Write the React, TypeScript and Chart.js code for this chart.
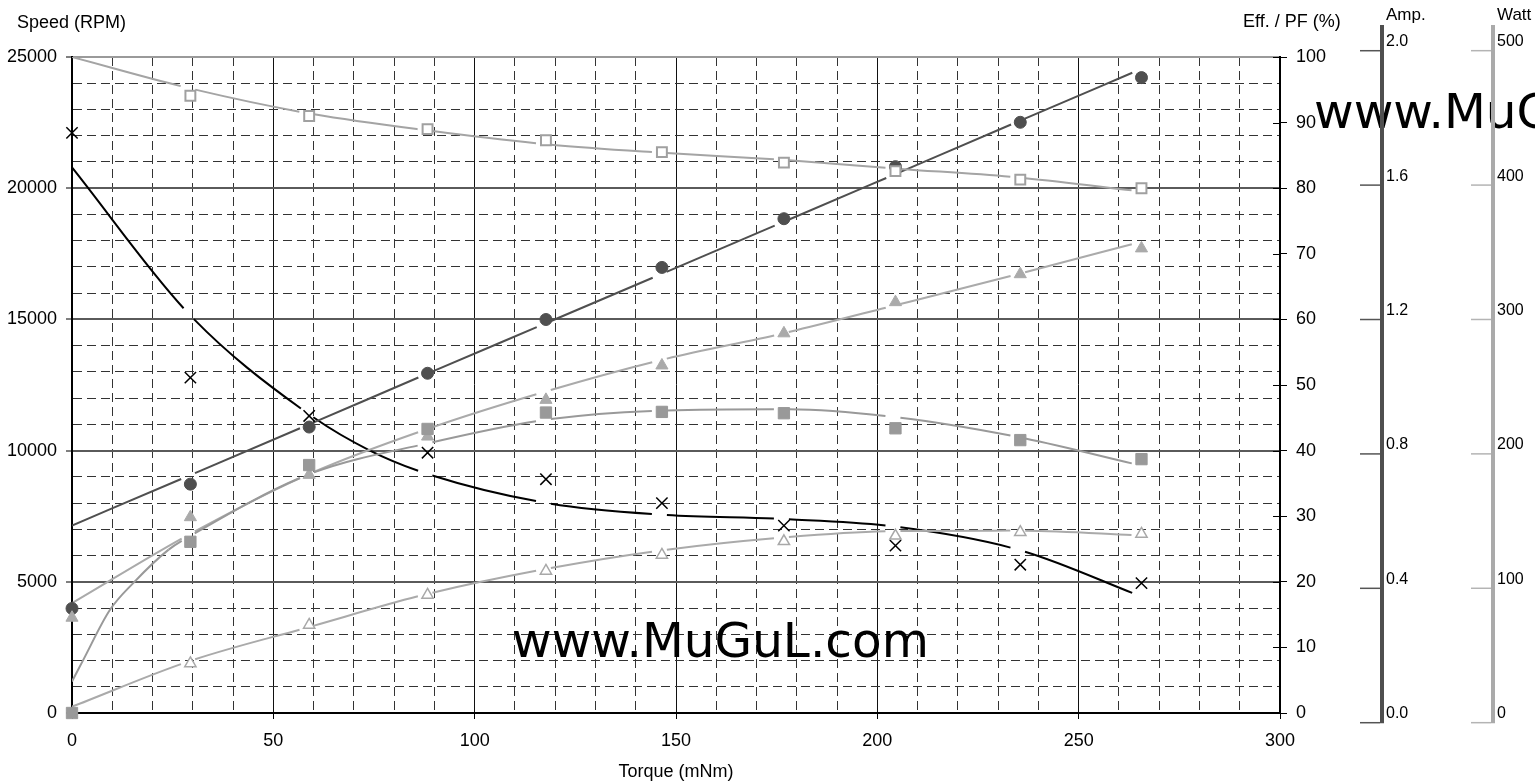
import { useEffect, useRef } from 'react';
import { Chart, registerables } from 'chart.js';

Chart.register(...registerables);

// ---------------- data ----------------
const TORQUE = [0, 29.4, 58.9, 88.3, 117.7, 146.5, 176.8, 204.5, 235.5, 265.6];
const SPEED_RPM = [22110, 12780, 11320, 9920, 8910, 8000, 7140, 6380, 5650, 4950];
const CURRENT_A = [0.34, 0.71, 0.88, 1.04, 1.2, 1.355, 1.5, 1.655, 1.787, 1.92];
const INPUT_W = [78.1, 152.9, 184.4, 212.9, 240.2, 265.8, 289.7, 312.9, 333.7, 352.9];
const OUTPUT_W = [null, 44.1, 72.7, 95.0, 112.9, 124.8, 134.9, 139.0, 141.7, 140.4];
const EFF_PCT = [0, 26.1, 37.8, 43.3, 45.8, 45.9, 45.7, 43.4, 41.6, 38.7];
const PF_PCT = [null, 94.1, 91.0, 89.0, 87.3, 85.5, 83.9, 82.6, 81.3, 80.0];

// fitted (trend) curves
const SPEED_FIT_T = [0, 29.4, 58.9, 74, 88.3, 117.7, 146.5, 176.8, 204.5, 235.5, 265.6];
const SPEED_FIT = [20790, 15150, 11380, 10000, 9110, 8010, 7560, 7390, 7100, 6200, 4440];
const CURRENT_FIT = [0.587, 0.737, 0.888, 1.039, 1.189, 1.336, 1.491, 1.633, 1.792, 1.946];
const INPUT_FIT = [88.9, 140.5, 185, 218.6, 246.5, 270, 289.8, 310.6, 334.2, 357.9];
const OUTPUT_FIT = [11.9, 46, 71.2, 95.8, 114.4, 128.2, 137.8, 142.5, 142.9, 139.4];
const EFF_FIT_T = [0, 2.8, 9.4, 15.2, 24, 29.4, 58.9, 88.3, 117.7, 146.5, 176.8, 204.5, 235.5, 265.6];
const EFF_FIT = [4.8, 8.1, 15.7, 19.8, 24.9, 27.0, 36.4, 41.1, 44.7, 46.1, 46.3, 45.1, 42.0, 37.7];
const PF_FIT = [100, 95.2, 91.4, 88.8, 86.7, 85.4, 84.3, 83.0, 81.6, 79.5];

// axes / ticks
const AMP_TICKS = [0, 0.4, 0.8, 1.2, 1.6, 2.0];
const WATT_TICKS = [0, 100, 200, 300, 400, 500];
const PCT_TICKS = [0, 10, 20, 30, 40, 50, 60, 70, 80, 90, 100];
const SPEED_TITLE = 'Speed (RPM)';
const PCT_TITLE = 'Eff. / PF (%)';
const X_TITLE = 'Torque (mNm)';
const AMP_TITLE = 'Amp.';
const WATT_TITLE = 'Watt';
const WATERMARK = 'www.MuGuL.com';

// ---------------- helpers ----------------
const FONT = '"Liberation Sans", Arial, Helvetica, sans-serif';
const pts = (xs: number[], ys: (number | null)[]) => xs.map((x, i) => ({ x, y: ys[i] }));
const MARKS = TORQUE.filter((t) => t > 0);
const GAP_BEFORE = 10;
const GAP_AFTER = 5;

function gapStyle(ctx: any, xs: number[]) {
  const p0 = ctx.p0;
  const p1 = ctx.p1;
  const L = Math.hypot(p1.x - p0.x, p1.y - p0.y);
  const a = MARKS.includes(xs[ctx.p0DataIndex]) ? GAP_AFTER : 0;
  const b = MARKS.includes(xs[ctx.p1DataIndex]) ? GAP_BEFORE : 0;
  if (a + b === 0) return { dash: [] as number[], offset: 0 };
  return { dash: [Math.max(L - a - b, 0.001), a + b + 200], offset: -a };
}

function trend(label: string, xs: number[], ys: number[], axis: string, color: string) {
  return {
    label,
    data: pts(xs, ys),
    yAxisID: axis,
    showLine: true,
    borderColor: color,
    borderWidth: 2,
    pointRadius: 0,
    pointHoverRadius: 0,
    cubicInterpolationMode: 'monotone',
    fill: false,
    segment: {
      borderDash: (c: any) => gapStyle(c, xs).dash,
      borderDashOffset: (c: any) => gapStyle(c, xs).offset,
    },
  };
}

function markers(label: string, ys: (number | null)[], axis: string, style: string, radius: number, fillColor: string, strokeColor: string, bw: number) {
  return {
    label,
    data: pts(TORQUE, ys),
    yAxisID: axis,
    showLine: false,
    pointStyle: style,
    pointRadius: radius,
    pointHoverRadius: radius,
    pointBackgroundColor: fillColor,
    pointBorderColor: strokeColor,
    pointBorderWidth: bw,
    borderColor: strokeColor,
    backgroundColor: fillColor,
    clip: false,
  };
}

function drawSideAxis(ctx: CanvasRenderingContext2D, scale: any, x: number, color: string, tickColor: string, ticks: number[], fmt: (v: number) => string, title: string) {
  const yBottom = scale.getPixelForValue(ticks[0]);
  ctx.save();
  ctx.strokeStyle = color;
  ctx.lineWidth = 4;
  ctx.beginPath();
  ctx.moveTo(x, 25);
  ctx.lineTo(x, yBottom + 0.5);
  ctx.stroke();
  ctx.strokeStyle = tickColor;
  ctx.lineWidth = 1.5;
  ctx.fillStyle = '#000';
  ctx.font = `16px ${FONT}`;
  ctx.textAlign = 'left';
  ctx.textBaseline = 'alphabetic';
  ticks.forEach((v) => {
    const y = scale.getPixelForValue(v);
    ctx.beginPath();
    ctx.moveTo(x - 22, y);
    ctx.lineTo(x - 2, y);
    ctx.stroke();
    ctx.fillText(fmt(v), x + 4, y - 4.5);
  });
  ctx.font = `17px ${FONT}`;
  ctx.fillText(title, x + 4, 20);
  ctx.restore();
}

const overlayPlugin = {
  id: 'overlay',
  beforeDatasetsDraw(chart: any) {
    const ctx = chart.ctx as CanvasRenderingContext2D;
    ctx.save();
    ctx.font = '48.5px "DejaVu Sans", Verdana, sans-serif';
    ctx.fillStyle = '#000';
    ctx.textAlign = 'left';
    ctx.textBaseline = 'alphabetic';
    ctx.fillText(WATERMARK, 512, 657);
    ctx.fillText(WATERMARK, 1314, 128);
    ctx.restore();
  },
  afterDraw(chart: any) {
    const ctx = chart.ctx as CanvasRenderingContext2D;
    const pct = chart.scales.yPct;
    ctx.save();
    // inner tick marks of the % axis
    ctx.strokeStyle = '#000';
    ctx.lineWidth = 1;
    PCT_TICKS.forEach((v) => {
      const y = Math.round(pct.getPixelForValue(v)) + 0.5;
      ctx.beginPath();
      ctx.moveTo(pct.left - 7, y);
      ctx.lineTo(pct.left, y);
      ctx.stroke();
    });
    // axis titles
    ctx.fillStyle = '#000';
    ctx.font = `18px ${FONT}`;
    ctx.textAlign = 'left';
    ctx.textBaseline = 'alphabetic';
    ctx.fillText(SPEED_TITLE, 17, 28);
    ctx.fillText(PCT_TITLE, 1243, 27);
    ctx.restore();
    drawSideAxis(ctx, chart.scales.yAmp, 1382, '#4f4f4f', '#555555', AMP_TICKS, (v) => v.toFixed(1), AMP_TITLE);
    drawSideAxis(ctx, chart.scales.yWatt, 1493, '#aaaaaa', '#b4b4b4', WATT_TICKS, (v) => String(v), WATT_TITLE);
  },
};

export default function App() {
  const ref = useRef<HTMLCanvasElement>(null);

  useEffect(() => {
    const canvas = ref.current;
    if (!canvas) return;
    Chart.defaults.font.family = FONT;
    Chart.defaults.font.size = 18;
    Chart.defaults.color = '#000';

    const xMajor = (c: any) => c.tick && Math.abs(c.tick.value % 50) < 1e-6;
    const yMajor = (c: any) => c.tick && Math.abs(c.tick.value % 5000) < 1e-6;

    const chart = new Chart(canvas, {
      type: 'line',
      data: {
        datasets: [
          markers('PF (%)', PF_PCT, 'yPct', 'rect', 7, '#ffffff', '#a0a0a0', 2),
          markers('Eff. (%)', EFF_PCT, 'yPct', 'rect', 8, '#999999', '#999999', 1),
          markers('Input (W)', INPUT_W, 'yWatt', 'triangle', 7, '#aaaaaa', '#aaaaaa', 1),
          markers('Current (A)', CURRENT_A, 'yAmp', 'circle', 6, '#4f4f4f', '#4f4f4f', 1),
          markers('Output (W)', OUTPUT_W, 'yWatt', 'triangle', 6.5, '#ffffff', '#a8a8a8', 1.5),
          markers('Speed (RPM)', SPEED_RPM, 'y', 'crossRot', 8, '#000000', '#000000', 1.5),
          trend('PF fit', TORQUE, PF_FIT, 'yPct', '#a4a4a4'),
          trend('Eff fit', EFF_FIT_T, EFF_FIT, 'yPct', '#999999'),
          trend('Input fit', TORQUE, INPUT_FIT, 'yWatt', '#aaaaaa'),
          trend('Output fit', TORQUE, OUTPUT_FIT, 'yWatt', '#aaaaaa'),
          trend('Current fit', TORQUE, CURRENT_FIT, 'yAmp', '#4f4f4f'),
          trend('Speed fit', SPEED_FIT_T, SPEED_FIT, 'y', '#000000'),
        ] as any,
      },
      options: {
        responsive: false,
        animation: false,
        events: [],
        layout: { padding: { top: 57, left: 0, right: 0, bottom: 0 } },
        plugins: { legend: { display: false }, tooltip: { enabled: false }, title: { display: false } },
        scales: {
          x: {
            type: 'linear',
            position: 'bottom',
            min: 0,
            max: 300,
            afterFit: (s: any) => { s.height = 70; },
            ticks: {
              stepSize: 10,
              autoSkip: false,
              maxRotation: 0,
              padding: 11,
              color: '#000',
              font: { size: 18 },
              callback: (v: any) => (Math.abs(Number(v) % 50) < 1e-6 ? String(v) : ''),
            },
            grid: {
              color: (c: any) => (xMajor(c) ? '#111111' : '#333333'),
              lineWidth: 1,
              tickLength: 6,
              tickWidth: 1,
              tickColor: (c: any) => (xMajor(c) ? '#000' : 'rgba(0,0,0,0)'),
            },
            border: { display: true, color: '#000', width: 2, dash: (c: any) => (xMajor(c) ? [] : [9, 5]) },
            title: { display: true, text: X_TITLE, color: '#000', font: { size: 18 }, padding: 0 },
          },
          y: {
            type: 'linear',
            position: 'left',
            min: 0,
            max: 25000,
            afterFit: (s: any) => { s.width = 72; },
            ticks: {
              stepSize: 1000,
              autoSkip: false,
              padding: 9,
              color: '#000',
              font: { size: 18 },
              callback: (v: any) => (Math.abs(Number(v) % 5000) < 1e-6 ? String(v) : ''),
            },
            grid: {
              color: (c: any) => (c.tick && c.tick.value === 25000 ? '#9a9a9a' : yMajor(c) ? '#5a5a5a' : '#333333'),
              lineWidth: (c: any) => (yMajor(c) ? 2 : 1),
              tickLength: 6,
              tickWidth: 1,
              tickColor: (c: any) => (yMajor(c) ? '#000' : 'rgba(0,0,0,0)'),
            },
            border: { display: true, color: '#000', width: 2, dash: (c: any) => (yMajor(c) ? [] : [9, 5]) },
          },
          yPct: {
            type: 'linear',
            position: 'right',
            min: 0,
            max: 100,
            afterFit: (s: any) => { s.width = 255; },
            ticks: { stepSize: 10, autoSkip: false, padding: 9, color: '#000', font: { size: 18 } },
            grid: { drawOnChartArea: false, tickLength: 7, tickWidth: 1, tickColor: '#000' },
            border: { display: true, color: '#000', width: 2 },
          },
          yAmp: { type: 'linear', position: 'right', display: false, min: 0.0289, max: 1.9813 },
          yWatt: { type: 'linear', position: 'right', display: false, min: 7.2, max: 495.3 },
        } as any,
      },
      plugins: [overlayPlugin],
    } as any);

    return () => chart.destroy();
  }, []);

  return (
    <div style={{ position: 'absolute', left: 0, top: 0, width: 1535, height: 783, background: '#ffffff' }}>
      <canvas ref={ref} width={1535} height={783} style={{ display: 'block', width: 1535, height: 783 }} />
    </div>
  );
}
